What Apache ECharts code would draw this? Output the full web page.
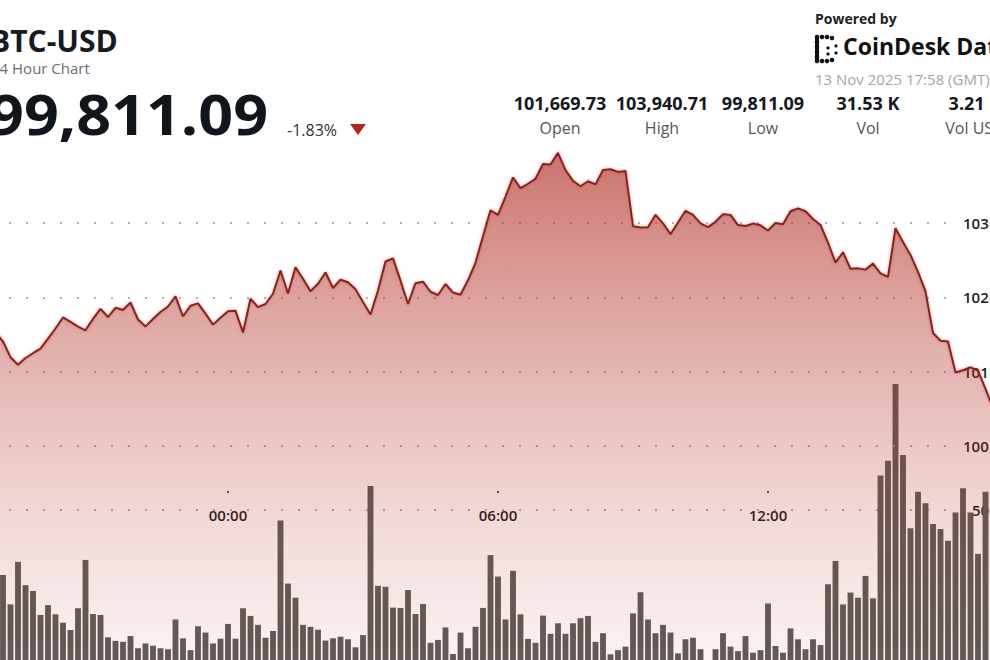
<!DOCTYPE html>
<html>
<head>
<meta charset="utf-8">
<title>BTC-USD 24 Hour Chart</title>
<script src="https://cdn.jsdelivr.net/npm/echarts@6/dist/echarts.min.js"></script>
<style>
  html, body { margin: 0; width: 990px; height: 660px; overflow: hidden; background: #fff; }
  /* the picture is a crop: the chart is wider than the window and shifted left */
  #chart { position: absolute; left: -60px; top: 0; width: 1110px; height: 700px; }
</style>
</head>
<body>
<div id="chart"></div>
<script>
// 10 minute buckets, 18:00 (12 Nov) .. 17:50 (13 Nov) GMT
const times = [];
for (let h = 0; h < 24; h++) {
  for (let m = 0; m < 60; m += 10) {
    times.push(String((18 + h) % 24).padStart(2, '0') + ':' + String(m).padStart(2, '0'));
  }
}

// BTC-USD price per bucket
const prices = [
  101670, 101725, 101631, 101564, 101604, 101537, 101409, 101199, 101098, 101188,
  101252, 101314, 101447, 101584, 101732, 101674, 101609, 101560, 101713, 101848,
  101738, 101862, 101832, 101933, 101705, 101612, 101711, 101805, 101879, 102016,
  101748, 101889, 101921, 101783, 101636, 101728, 101816, 101823, 101530, 101983,
  101870, 101913, 102050, 102362, 102054, 102405, 102252, 102083, 102184, 102336,
  102128, 102239, 102205, 102111, 101941, 101771, 102093, 102483, 102525, 102226,
  101913, 102192, 102212, 102077, 102034, 102181, 102066, 102036, 102231, 102466,
  102821, 103170, 103110, 103354, 103611, 103468, 103527, 103593, 103793, 103785,
  103940.71, 103711, 103565, 103493, 103560, 103518, 103711, 103721, 103686, 103698,
  102957, 102941, 102944, 103110, 102996, 102850, 103007, 103164, 103110, 102995,
  102945, 103016, 103119, 103109, 102972, 102960, 102992, 102969, 102899, 103000,
  102984, 103157, 103197, 103158, 103054, 102973, 102738, 102469, 102607, 102385,
  102391, 102374, 102455, 102325, 102277, 102930, 102746, 102572, 102344, 102082,
  101524, 101420, 101408, 100993, 101024, 101063, 101020, 100772, 100517, 100356,
  100195, 100289, 100020, 99811.09
];

// BTC volume per bucket
const volumes = [
  180, 150, 210, 160, 140, 179, 297, 205, 338, 265,
  247, 172, 203, 174, 148, 125, 193, 344, 175, 172,
  102, 91, 88, 106, 68, 83, 76, 68, 65, 158,
  99, 62, 137, 117, 83, 98, 144, 98, 193, 169,
  141, 101, 122, 467, 270, 226, 141, 135, 126, 92,
  99, 104, 96, 71, 109, 575, 263, 260, 195, 194,
  250, 175, 206, 85, 94, 133, 50, 117, 68, 135,
  194, 359, 292, 158, 310, 174, 97, 85, 170, 113,
  146, 113, 146, 162, 169, 88, 115, 49, 62, 73,
  177, 243, 158, 115, 141, 117, 52, 96, 101, 65,
  25, 65, 115, 73, 59, 106, 54, 62, 208, 75,
  54, 130, 96, 65, 96, 78, 268, 341, 205, 242,
  226, 294, 224, 608, 654, 894, 672, 443, 557, 521,
  456, 441, 404, 492, 568, 492, 363, 557, 516, 480,
  420, 510, 390, 300
];

const timeTicks = ['00:00', '06:00', '12:00'];
const statValues = ['101,669.73', '103,940.71', '99,811.09', '31.53 K', '3.21 B'];
const statLabels = ['Open', 'High', 'Low', 'Vol', 'Vol USD'];

const OX = 60; // container offset
const FONT = '"Open Sans", "Noto Sans", sans-serif';

function txt(x, y, text, font, fill, align, extra, lh) {
  return Object.assign({
    type: 'text', x: x, y: y,
    style: { text: text, font: font, fill: fill, textAlign: align || 'left', align: align || 'left',
             textVerticalAlign: 'middle', verticalAlign: 'middle', lineHeight: lh }
  }, extra || {});
}

const statX = [560, 662, 763, 868, 975];
const elements = [
  txt(OX - 10, 40, 'BTC-USD', '700 30px ' + FONT, '#161a22', 'left', null, 30),
  txt(OX - 9, 68, '24 Hour Chart', '400 15px ' + FONT, '#6b6e73', 'left', null, 16),
  txt(OX - 11, 113, '99,811.09', '700 56px ' + FONT, '#11151c', 'left', { scaleX: 1.09 }, 56),
  txt(OX + 287, 130, '-1.83%', '400 16px ' + FONT, '#333'),
  { type: 'polygon', shape: { points: [[OX + 350, 124], [OX + 366, 124], [OX + 358, 135]] }, style: { fill: '#b3261e' } },
  txt(OX + 815, 18, 'Powered by', '700 14px ' + FONT, '#222'),
  txt(OX + 843, 46, 'CoinDesk Data', '700 23px ' + FONT, '#111'),
  txt(OX + 815, 79, '13 Nov 2025 17:58 (GMT)', '400 15px ' + FONT, '#a3a5aa')
];
// logo mark
[[817, 37], [822, 37], [827, 37], [832, 38], [817, 42], [817, 47], [817, 52], [817, 57],
 [817, 61], [822, 61], [827, 61], [832, 60], [828, 48], [828, 54], [836, 46], [836, 53]].forEach(function (p, i) {
  elements.push({ type: 'circle', shape: { cx: OX + p[0], cy: p[1], r: i < 12 ? 2.3 : 1.6 }, style: { fill: '#111' } });
});
elements.push({ type: 'rect', shape: { x: OX + 815, y: 37, width: 4, height: 25 }, style: { fill: '#111' } });
statValues.forEach(function (v, i) {
  elements.push(txt(OX + statX[i], 103, v, '700 18px ' + FONT, '#15181e', 'center'));
  elements.push(txt(OX + statX[i], 128, statLabels[i], '400 16px ' + FONT, '#555', 'center'));
});

const dotted = { type: [2, 15], width: 1.5, color: '#9b9b9b' };
const isTick = function (idx, val) { return timeTicks.indexOf(val) >= 0; };

const chart = echarts.init(document.getElementById('chart'), null, { renderer: 'svg' });
chart.setOption({
  animation: false,
  backgroundColor: '#fff',
  graphic: { elements: elements },
  grid: [
    { left: OX - 45.75, top: 148.5, width: 1080, height: 521.5 },  // price line
    { left: OX - 45.75, top: 350, width: 1080, height: 320 },      // volume bars
    { left: OX - 42, top: 223, width: 997, height: 223 },          // price grid lines
    { left: OX - 42, top: 510, width: 997, height: 160 },          // volume grid line
    { left: OX - 45.75, top: 400, width: 1080, height: 91 }        // time labels
  ],
  xAxis: [
    { gridIndex: 0, type: 'category', data: times, boundaryGap: true, show: false },
    { gridIndex: 1, type: 'category', data: times, boundaryGap: true, show: false },
    { gridIndex: 2, type: 'value', show: false },
    { gridIndex: 3, type: 'value', show: false },
    {
      gridIndex: 4, type: 'category', data: times, boundaryGap: true,
      axisLine: { show: false },
      axisTick: { show: true, alignWithLabel: true, interval: isTick, length: 2, lineStyle: { width: 2, color: '#555' } },
      axisLabel: { interval: isTick, margin: 16, fontFamily: FONT, fontSize: 15, fontWeight: 600, color: '#1c1c1c' }
    }
  ],
  yAxis: [
    { gridIndex: 0, type: 'value', min: 97000, max: 104000, show: false },
    { gridIndex: 1, type: 'value', min: 0, max: 1000, show: false },
    {
      gridIndex: 2, type: 'value', min: 100000, max: 103000, interval: 1000, position: 'right',
      axisLine: { show: false }, axisTick: { show: false }, splitLine: { show: false },
      axisLabel: { margin: 8, formatter: function (v) { return v / 1000 + 'K'; },
                   fontFamily: FONT, fontSize: 15, fontWeight: 600, color: '#1c1c1c' }
    },
    {
      gridIndex: 2, type: 'value', min: 100000, max: 103000, interval: 1000, position: 'left', z: 3,
      axisLine: { show: false }, axisTick: { show: false }, axisLabel: { show: false },
      splitLine: { show: true, lineStyle: dotted }
    },
    {
      gridIndex: 3, type: 'value', min: 0, max: 500, interval: 500, position: 'right',
      axisLine: { show: false }, axisTick: { show: false },
      splitLine: { show: true, lineStyle: dotted },
      axisLabel: { margin: 17, fontFamily: FONT, fontSize: 15, fontWeight: 600, color: '#1c1c1c' }
    },
    { gridIndex: 4, type: 'value', show: false }
  ],
  series: [
    {
      type: 'bar', xAxisIndex: 1, yAxisIndex: 1, data: volumes, barCategoryGap: '22%',
      itemStyle: { color: '#5b5d58' }, silent: true
    },
    {
      type: 'line', xAxisIndex: 0, yAxisIndex: 0, data: prices, symbol: 'none', silent: true,
      lineStyle: { color: '#8a231d', width: 2, shadowBlur: 3, shadowColor: 'rgba(200,70,60,0.55)' },
      areaStyle: {
        color: new echarts.graphic.LinearGradient(0, 0, 0, 1, [
          { offset: 0, color: 'rgba(176,42,32,0.93)' },
          { offset: 0.15, color: 'rgba(176,42,32,0.76)' },
          { offset: 0.3, color: 'rgba(176,42,32,0.6)' },
          { offset: 0.5, color: 'rgba(176,42,32,0.42)' },
          { offset: 0.72, color: 'rgba(176,42,32,0.24)' },
          { offset: 0.95, color: 'rgba(176,42,32,0.10)' },
          { offset: 1, color: 'rgba(176,42,32,0.08)' }
        ])
      }
    }
  ]
});
</script>
</body>
</html>
